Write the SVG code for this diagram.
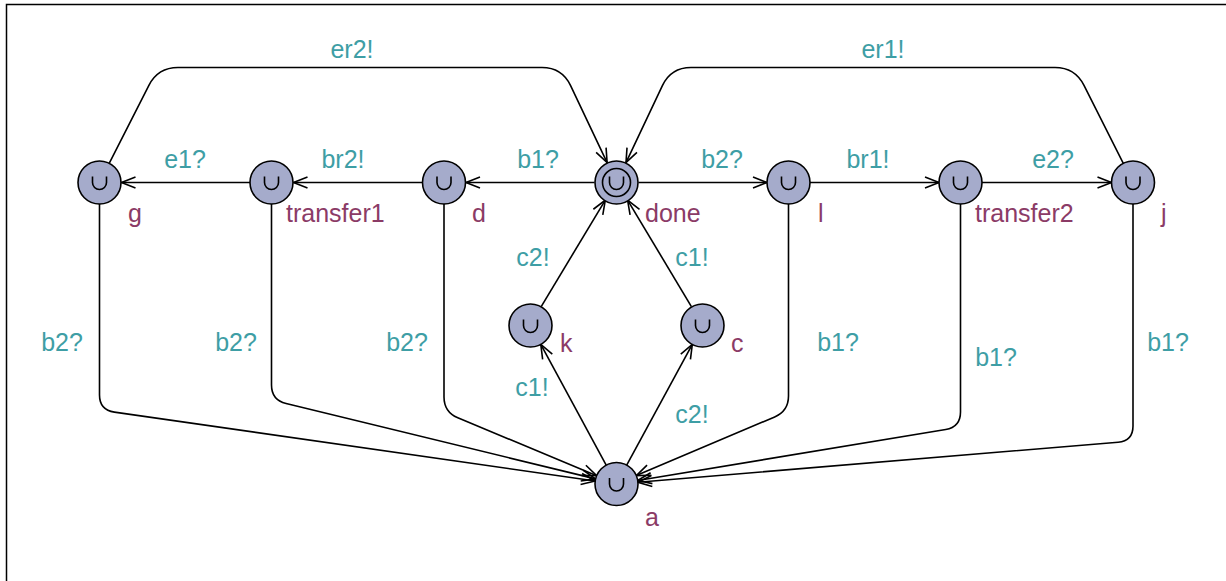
<svg xmlns="http://www.w3.org/2000/svg" width="1226" height="581" viewBox="0 0 1226 581">
  <style>
    .frame { fill: #ffffff; stroke: #000000; stroke-width: 1.5; }
    .loc circle { fill: #a5abcb; stroke: #000000; stroke-width: 1.6; }
    .loc .ring { fill: none; }
    .name { font-family: "Liberation Sans", Arial, sans-serif; font-size: 25px; fill: #8b3b66; }
    .edges path { fill: none; stroke: #000000; stroke-width: 1.6; marker-end: url(#arrow); }
    .sync { font-family: "Liberation Sans", Arial, sans-serif; font-size: 25px; fill: #3e9ea5; text-anchor: middle; }
  </style>
  <defs>
    <marker id="arrow" markerUnits="userSpaceOnUse" markerWidth="20" markerHeight="14" viewBox="-15 -7 17 14" refX="0" refY="0" orient="auto">
      <path d="M-14,-5.5 L0,0 L-14,5.5" fill="none" stroke="#000000" stroke-width="1.6"/>
    </marker>
    <!-- urgent-location mark -->
    <path id="urgent" d="M-7,-6 V0 A7,7 0 0 0 7,0 V-6" fill="none" stroke="#000000" stroke-width="1.6"/>
  </defs>

  <rect class="frame" x="6.5" y="4.5" width="1240" height="600"/>

  <!-- transitions -->
  <g id="edges" class="edges">
    <!-- top loops into done -->
    <path d="M109.2,163.3 L148.9,85.3 Q158,67.5 178,67.5 L542,67.5 Q562,67.5 570.6,85.6 L607.1,162.6"/>
    <path d="M1123.3,163.3 L1084,85.4 Q1075,67.5 1055,67.5 L691,67.5 Q671,67.5 662.4,85.6 L626,162.6"/>
    <!-- horizontal chain -->
    <path d="M594.5,182.5 L466,182.5"/>
    <path d="M422.5,182.5 L293.5,182.5"/>
    <path d="M250,182.5 L121.5,182.5"/>
    <path d="M638.5,182.5 L767,182.5"/>
    <path d="M810,182.5 L939,182.5"/>
    <path d="M982,182.5 L1111.5,182.5"/>
    <!-- k, c to done -->
    <path d="M541.2,306.6 L605.3,200.1"/>
    <path d="M691.4,306.6 L627.6,200.1"/>
    <!-- a to k, c -->
    <path d="M606.2,465.1 L540.8,344.4"/>
    <path d="M626.7,465.1 L692.3,344.4"/>
    <!-- verticals down to a -->
    <path d="M99.5,204 L99.5,395 Q99.5,410 114.4,412.1 L595.2,481"/>
    <path d="M271.5,204 L271.5,385 Q271.5,400 286.1,403.5 L595.6,478.9"/>
    <path d="M444,204 L444,397 Q444,412 457.8,417.8 L596.7,475.7"/>
    <path d="M788.5,204 L788.5,396 Q788.5,411 774.7,416.9 L636.3,475.6"/>
    <path d="M960.5,204 L960.5,412 Q960.5,427 945.7,429.5 L637.7,480.5"/>
    <path d="M1133,204 L1133,426 Q1133,441 1118.1,442.2 L637.9,482.2"/>
  </g>

  <!-- sync labels -->
  <g id="labels">
    <text class="sync" x="352" y="58">er2!</text>
    <text class="sync" x="883" y="58">er1!</text>
    <text class="sync" x="185" y="168">e1?</text>
    <text class="sync" x="343" y="168">br2!</text>
    <text class="sync" x="538" y="168">b1?</text>
    <text class="sync" x="722" y="168">b2?</text>
    <text class="sync" x="868" y="168">br1!</text>
    <text class="sync" x="1053" y="168">e2?</text>
    <text class="sync" x="533" y="266">c2!</text>
    <text class="sync" x="692" y="266">c1!</text>
    <text class="sync" x="62" y="351">b2?</text>
    <text class="sync" x="236" y="351">b2?</text>
    <text class="sync" x="407" y="351">b2?</text>
    <text class="sync" x="838" y="351">b1?</text>
    <text class="sync" x="996" y="366">b1?</text>
    <text class="sync" x="1168" y="351">b1?</text>
    <text class="sync" x="532" y="396">c1!</text>
    <text class="sync" x="692" y="423">c2!</text>
  </g>

  <!-- locations -->
  <g id="g" class="loc" transform="translate(99.5,182.5)">
    <circle r="21.5"/><use href="#urgent"/>
  </g>
  <text class="name" x="128" y="222">g</text>

  <g id="transfer1" class="loc" transform="translate(271.5,182.5)">
    <circle r="21.5"/><use href="#urgent"/>
  </g>
  <text class="name" x="286" y="222">transfer1</text>

  <g id="d" class="loc" transform="translate(444,182.5)">
    <circle r="21.5"/><use href="#urgent"/>
  </g>
  <text class="name" x="472" y="222">d</text>

  <g id="done" class="loc" transform="translate(616.5,182.5)">
    <circle r="21.5"/><circle class="ring" r="14"/><use href="#urgent"/>
  </g>
  <text class="name" x="645" y="222">done</text>

  <g id="l" class="loc" transform="translate(788.5,182.5)">
    <circle r="21.5"/><use href="#urgent"/>
  </g>
  <text class="name" x="818" y="222">l</text>

  <g id="transfer2" class="loc" transform="translate(960.5,182.5)">
    <circle r="21.5"/><use href="#urgent"/>
  </g>
  <text class="name" x="975" y="222">transfer2</text>

  <g id="j" class="loc" transform="translate(1133,182.5)">
    <circle r="21.5"/><use href="#urgent"/>
  </g>
  <text class="name" x="1161" y="222">j</text>

  <g id="k" class="loc" transform="translate(530.5,325.5)">
    <circle r="21.5"/><use href="#urgent"/>
  </g>
  <text class="name" x="560" y="352">k</text>

  <g id="c" class="loc" transform="translate(702.5,325.5)">
    <circle r="21.5"/><use href="#urgent"/>
  </g>
  <text class="name" x="731" y="352">c</text>

  <g id="a" class="loc" transform="translate(616.5,484)">
    <circle r="21.5"/><use href="#urgent"/>
  </g>
  <text class="name" x="645" y="526">a</text>
</svg>
